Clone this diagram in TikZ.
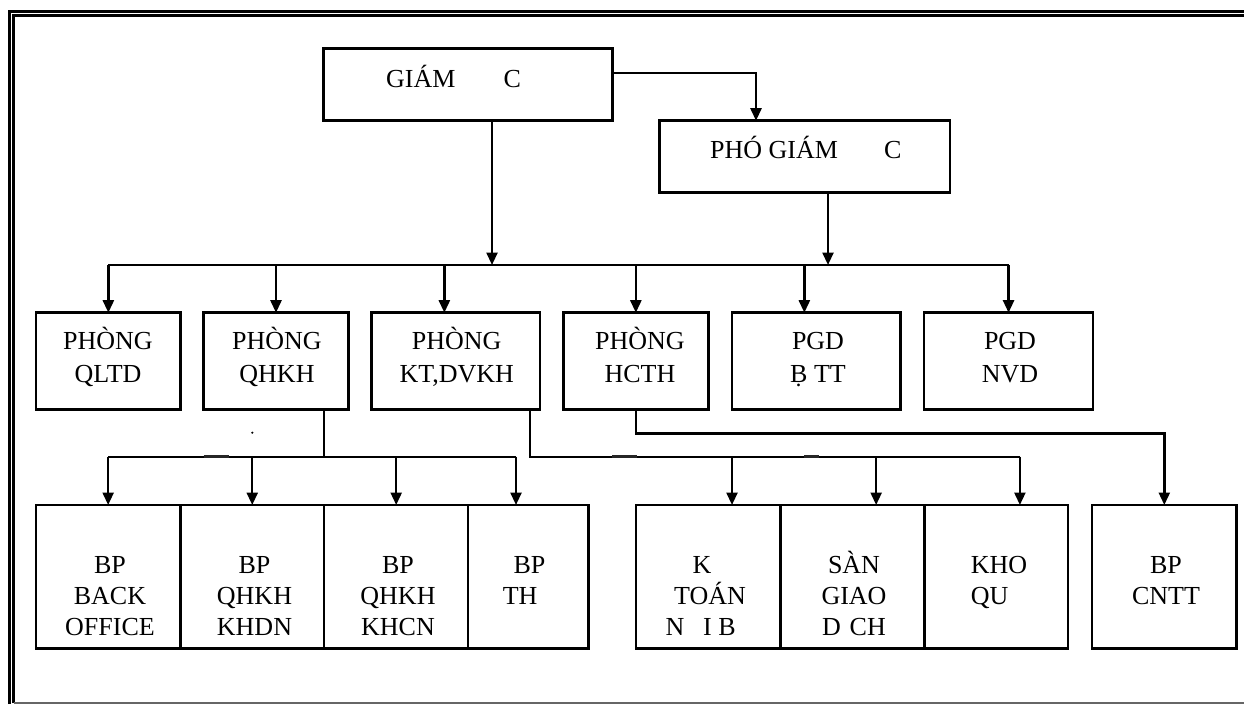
\documentclass[tikz,border=0pt]{standalone}
\usepackage{fontspec}
\setmainfont{Liberation Serif}
\usetikzlibrary{arrows.meta}
\newcommand\orgbox[5]{\node[box,minimum width={(#3)-(#2)},minimum height={(#5)-(#4)}] (#1) at ({((#2)+(#3))/2},{((#4)+(#5))/2}) {};}
\begin{document}
\begin{tikzpicture}[x=1pt,y=-1pt,
  box/.style={draw, line width=2.5pt, inner sep=0pt, outer sep=0pt},
  conn/.style={line width=2.4pt},
  arr/.style={line width=2.4pt, -{Triangle[length=12.5pt,width=11pt]}},
  lbl/.style={font=\fontsize{26}{33}\selectfont, align=center, inner sep=0pt, anchor=base},
  lblb/.style={lbl, font=\fontsize{26}{31}\selectfont},
  artifact/.style={line width=3.4pt, black!85},
]
\useasboundingbox (0,0) rectangle (1244,704);
% frame
\draw[line width=3pt] (9,704) -- (9,11) -- (1244,11);
\draw[line width=2.4pt] (13.5,703) -- (13.5,15.5) -- (1244,15.5);
\draw[line width=1.6pt, black!60] (13.5,703) -- (1244,703);

% boxes
\orgbox{gd}{323.7}{612.3}{48.7}{120.7}
\orgbox{pgd}{659.7}{950}{120.7}{192.7}
\orgbox{qltd}{36}{180.7}{312.7}{409.3}
\orgbox{qhkh}{203.6}{348.4}{312.7}{409.3}
\orgbox{kt}{371.7}{540}{312.7}{409.3}
\orgbox{hcth}{563.3}{708.4}{312.7}{409.3}
\orgbox{btt}{732.2}{900.5}{312.7}{409.3}
\orgbox{nvd}{923.9}{1093.2}{312.7}{409.3}
\orgbox{back}{36}{180.3}{505}{648.3}
\orgbox{khdn}{180.3}{324.2}{505}{648.3}
\orgbox{khcn}{324.2}{468.2}{505}{648.3}
\orgbox{th}{468.2}{588.4}{505}{648.3}
\orgbox{ktoan}{636.1}{780.7}{505}{648.3}
\orgbox{san}{780.7}{924.4}{505}{648.3}
\orgbox{kho}{924.4}{1068.2}{505}{648.3}
\orgbox{cntt}{1092}{1236.6}{505}{648.3}

% labels (base anchor = baseline of last line)
\node[lbl, anchor=base west] (tgd) at (386,87.3) {GIÁM\hspace{48pt}C};
\node[lbl, anchor=base west] (tpgd) at (710,158.7) {PHÓ GIÁM\hspace{46pt}C};
\node[lbl] (tqltd) at (108,382.3) {PHÒNG\\QLTD};
\node[lbl] (tqhkh) at (277,382.3) {PHÒNG\\QHKH};
\node[lbl] (tkt) at (456.7,382.3) {PHÒNG\\KT,DVKH};
\node[lbl] (thcth) at (640,382.3) {PHÒNG\\HCTH};
\node[lbl] (tbtt) at (818,382.3) {PGD\\\d{B} TT};
\node[lbl] (tnvd) at (1010,382.3) {PGD\\NVD};
\node[lblb] (tback) at (110,635) {BP\\BACK\\OFFICE};
\node[lblb] (tkhdn) at (254.5,635) {BP\\QHKH\\KHDN};
\node[lblb] (tkhcn) at (398,635) {BP\\QHKH\\KHCN};
\node[lblb] (tth) at (529.5,604) {BP\\TH\hphantom{U}};
\node[lblb] (tktoan) at (710,635) {K\hphantom{E}\\TOÁN\\N\hphantom{O}I B\hphantom{O}};
\node[lblb] (tsan) at (854,635) {SÀN\\GIAO\\D\hspace{8.7pt}CH};
\node[lblb] (tkho) at (999,604) {KHO\\QU\hphantom{Y}};
\node[lblb] (tcntt) at (1166,604) {BP\\CNTT};

% connectors
\coordinate (b1) at (0,265);
\coordinate (b2) at (0,456.7);
\coordinate (b3) at (0,433.3);
\draw[arr] ([yshift=12pt]gd.east) -| ([xshift=-48.85pt]pgd.north);
\draw[arr] ([xshift=24pt]gd.south) -- ([xshift=24pt]gd.south |- b1);
\draw[arr] ([xshift=23.15pt]pgd.south) -- ([xshift=23.15pt]pgd.south |- b1);
\draw[conn] (qltd.north |- b1) -- (nvd.north |- b1);
\draw[arr] (qltd.north |- b1) -- (qltd.north);
\draw[arr] (qhkh.north |- b1) -- (qhkh.north);
\draw[arr] ([xshift=-11.5pt]kt.north |- b1) -- ([xshift=-11.5pt]kt.north);
\draw[arr] (hcth.north |- b1) -- (hcth.north);
\draw[arr] ([xshift=-12pt]btt.north |- b1) -- ([xshift=-12pt]btt.north);
\draw[arr] (nvd.north |- b1) -- (nvd.north);

\draw[conn] ([xshift=48.2pt]qhkh.south) -- ([xshift=48.2pt]qhkh.south |- b2);
\draw[conn] (back.north |- b2) -- ([xshift=-12.3pt]th.north |- b2);
\draw[arr] (back.north |- b2) -- (back.north);
\draw[arr] (khdn.north |- b2) -- (khdn.north);
\draw[arr] (khcn.north |- b2) -- (khcn.north);
\draw[arr] ([xshift=-12.3pt]th.north |- b2) -- ([xshift=-12.3pt]th.north);

\draw[conn] ([xshift=74pt]kt.south) |- ([xshift=23.6pt]kho.north |- b2);
\draw[arr] ([xshift=23.6pt]ktoan.north |- b2) -- ([xshift=23.6pt]ktoan.north);
\draw[arr] ([xshift=23.6pt]san.north |- b2) -- ([xshift=23.6pt]san.north);
\draw[arr] ([xshift=23.6pt]kho.north |- b2) -- ([xshift=23.6pt]kho.north);

\draw[arr] (hcth.south) -- (hcth.south |- b3) -| (cntt.north);

% small marks
\fill (252.3,432.7) circle (1.2pt);
\draw[artifact] (203.6,456.7) -- (228.5,456.7);
\draw[artifact] (612.3,456.7) -- (637,456.7);
\draw[artifact] (804,456.7) -- (818.5,456.7);
\end{tikzpicture}
\end{document}
